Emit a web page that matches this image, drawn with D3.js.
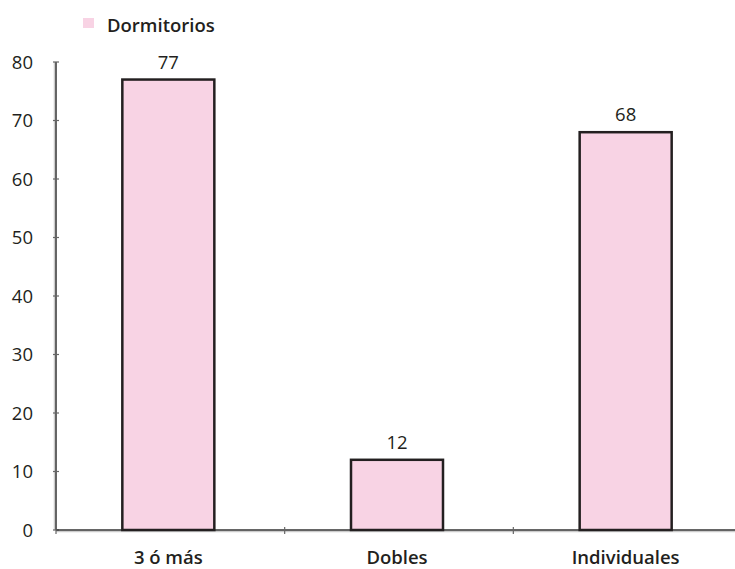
<!DOCTYPE html>
<html><head><meta charset="utf-8">
<script src="https://cdn.jsdelivr.net/npm/d3@7"></script>
<style>body{margin:0;background:#fff}svg{display:block}text{font-family:"Open Sans","Liberation Sans",Arial,sans-serif;fill:#231f20}</style>
</head><body>
<script>
const categories = ["3 ó más", "Dobles", "Individuales"];
const values = [77, 12, 68];
const seriesName = "Dormitorios";
const yTicks = [0, 10, 20, 30, 40, 50, 60, 70, 80];

(function(){
const W = 735, H = 569;
const svg = d3.select("body").append("svg").attr("width", W).attr("height", H);
const mLeft = 56, mRight = 742, mTop = 62, mBottom = 530;
const fs = 18.5;

const x = d3.scaleBand().domain(categories).range([mLeft, mRight]).paddingInner(0).paddingOuter(0);
const y = d3.scaleLinear().domain([0, 80]).range([mBottom, mTop]);

// y axis
const ya = svg.append("g");
ya.append("line").attr("x1", mLeft-1.5).attr("x2", mLeft-1.5).attr("y1", mTop).attr("y2", mBottom).attr("stroke", "#ccc").attr("stroke-width", 1.5);
ya.append("line").attr("x1", mLeft).attr("x2", mLeft).attr("y1", mTop).attr("y2", mBottom).attr("stroke", "#333").attr("stroke-width", 1.5);
ya.selectAll("line.t").data(yTicks).enter().append("line").attr("class","t")
  .attr("x1", mLeft-3).attr("x2", mLeft+3).attr("y1", d=>y(d)).attr("y2", d=>y(d)).attr("stroke", "#666").attr("stroke-width", 1.2);
ya.selectAll("text").data(yTicks).enter().append("text")
  .attr("x", 33).attr("y", d=>y(d)).attr("dy", "0.36em").attr("text-anchor", "end")
  .attr("font-size", fs).text(d=>d);

// x axis
const xa = svg.append("g");
xa.append("line").attr("x1", mLeft).attr("x2", W).attr("y1", mBottom+1.5).attr("y2", mBottom+1.5).attr("stroke", "#ccc").attr("stroke-width", 1.5);
xa.append("line").attr("x1", mLeft).attr("x2", W).attr("y1", mBottom).attr("y2", mBottom).attr("stroke", "#333").attr("stroke-width", 1.5);
const bounds = categories.map(c => x(c)).concat([mRight]);
xa.selectAll("line.t").data(bounds).enter().append("line").attr("class","t")
  .attr("x1", d=>d).attr("x2", d=>d).attr("y1", mBottom-3).attr("y2", mBottom+4).attr("stroke", "#666").attr("stroke-width", 1.2);
xa.selectAll("text").data(categories).enter().append("text")
  .attr("x", d=>x(d)+x.bandwidth()/2 - 2).attr("y", 564).attr("text-anchor", "middle")
  .attr("font-size", fs).attr("font-weight", 600).text(d=>d);

// bars
const bw = 92;
svg.selectAll("rect.bar").data(values).enter().append("rect").attr("class","bar")
  .attr("x", (d,i)=>x(categories[i])+x.bandwidth()/2 - 2 - bw/2)
  .attr("width", bw)
  .attr("y", d=>y(d)).attr("height", d=>mBottom - y(d))
  .attr("fill", "#f8d3e4").attr("stroke", "#231f20").attr("stroke-width", 2.5);

svg.selectAll("text.val").data(values).enter().append("text").attr("class","val")
  .attr("x", (d,i)=>x(categories[i])+x.bandwidth()/2 - 2).attr("y", d=>y(d)-11)
  .attr("text-anchor", "middle").attr("font-size", fs).text(d=>d);

// legend
svg.append("rect").attr("x", 83).attr("y", 18).attr("width", 11).attr("height", 10).attr("fill", "#f8d3e4");
svg.append("text").attr("x", 107).attr("y", 32).attr("font-size", fs).attr("font-weight", 600).text(seriesName);
})();
</script>
</body></html>
